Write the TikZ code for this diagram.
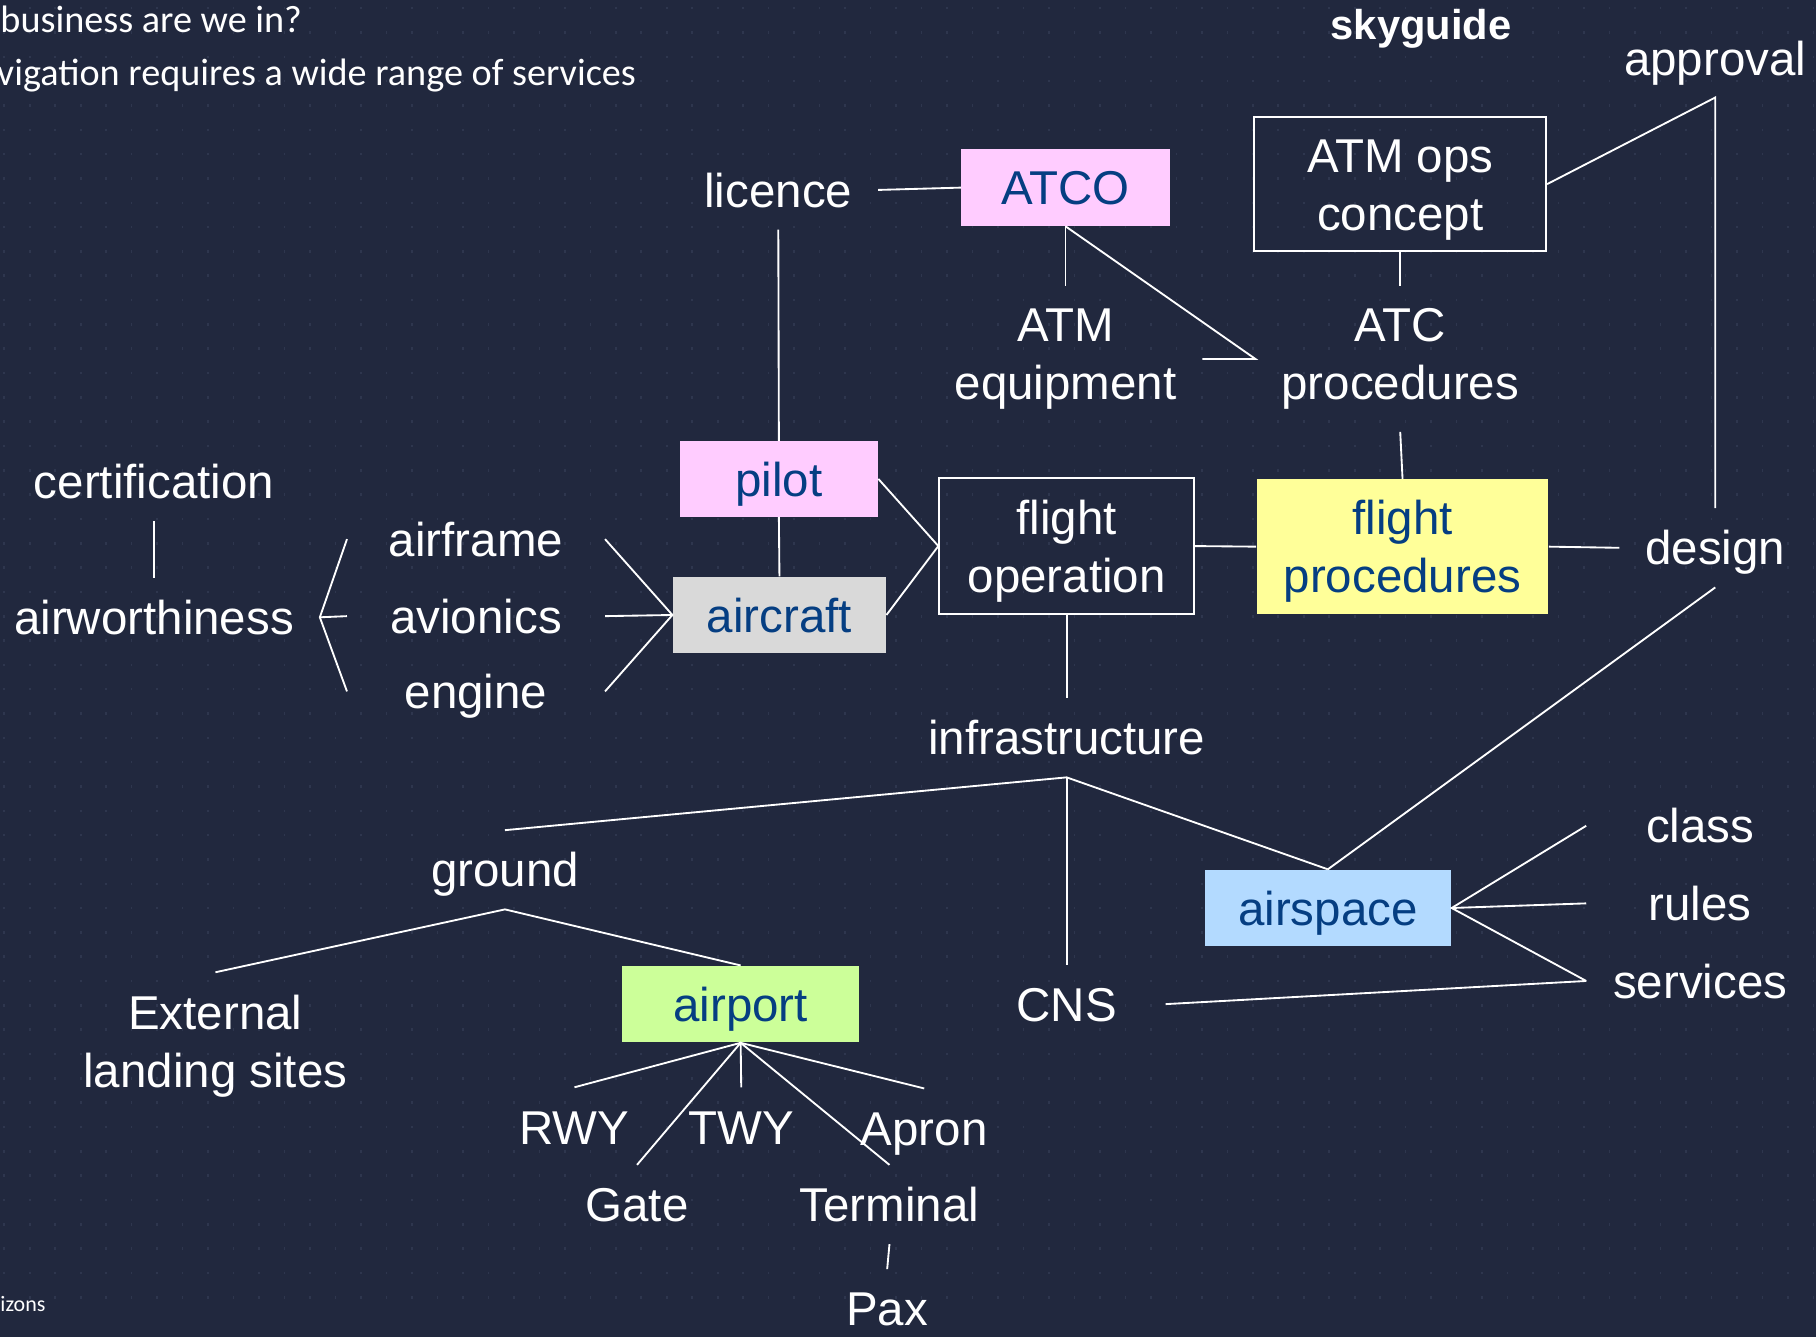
\documentclass[tikz,border=0pt]{standalone}
\usepackage{fontspec}
\setmainfont{Liberation Sans}
\newfontfamily\calibri{Carlito}
\newcommand{\tallline}{\rule{0pt}{19pt}}
\definecolor{slidebg}{RGB}{33,40,62}
\definecolor{griddot}{RGB}{46,54,78}
\definecolor{boxtext}{RGB}{5,62,130}
\definecolor{pinkfill}{RGB}{255,204,255}
\definecolor{grayfill}{RGB}{217,217,217}
\definecolor{yellowfill}{RGB}{255,255,153}
\definecolor{bluefill}{RGB}{179,218,255}
\definecolor{greenfill}{RGB}{204,255,153}
\begin{document}
\begin{tikzpicture}[x=0.5pt,y=-0.5pt,font=\fontsize{20.5}{25}\selectfont]
  \tikzstyle{word}=[text=white, inner xsep=11pt, inner ysep=9.5pt, text height=14.8pt, text depth=0pt]
  \tikzstyle{words}=[text=white, inner xsep=11pt, inner ysep=9.5pt, align=center]
  \tikzstyle{colbox}=[text=boxtext, inner sep=0pt, text height=14.8pt, text depth=0pt, minimum height=33pt]
  \tikzstyle{openbox}=[draw=white, line width=0.8pt, text=white, inner sep=0pt, align=center]
  \tikzstyle{link}=[draw=white, line width=0.8pt]
  \useasboundingbox (0,0) rectangle (1568,1154);
  \clip (0,0) rectangle (1568,1154);
  \fill[slidebg] (0,0) rectangle (1568,1154);
  \foreach \i in {0,...,72} \foreach \j in {0,...,53}
    \fill[griddot] (\i*22+3,\j*21+6) rectangle ++(1.4,2.2);
  \node[anchor=base west, text=white, inner sep=0pt, font=\calibri\fontsize{16.5}{19}\selectfont] (title1) at (0,28) {business are we in?};
  \node[anchor=base west, text=white, inner sep=0pt, font=\calibri\fontsize{16.5}{19}\selectfont] (title2) at (-3,74) {vigation requires a wide range of services};
  \node[anchor=base west, text=white, inner sep=0pt, font=\calibri\fontsize{9.5}{11}\selectfont] (footer) at (0,1132) {izons};
  \node[anchor=base, text=white, inner sep=0pt, font=\bfseries\fontsize{18}{21}\selectfont] (brand) at (1227,34.5) {skyguide};
  \node[word] (licence) at (672,164) {licence};
  \node[colbox, fill=pinkfill, minimum width=90pt] (atco) at (920,162) {ATCO};
  \node[openbox, minimum width=126pt, minimum height=58pt] (opsconcept) at (1209,159) {\tallline ATM ops\\concept};
  \node[word] (approval) at (1481,50) {approval};
  \node[words] (atmequip) at (920,310) {ATM\\equipment};
  \node[words] (atcproc) at (1209,310) {ATC\\procedures};
  \node[colbox, fill=pinkfill, minimum width=85.5pt, minimum height=32.5pt] (pilot) at (672.5,413.5) {pilot};
  \node[word] (cert) at (133,416) {certification};
  \node[word] (airworth) at (133,533) {airworthiness};
  \node[word, minimum width=111pt] (airframe) at (411,465.5) {airframe};
  \node[word, minimum width=111pt] (avionics) at (411,532) {avionics};
  \node[word, minimum width=111pt] (engine) at (411,597) {engine};
  \node[colbox, fill=grayfill, minimum width=92pt] (aircraft) at (673,531) {aircraft};
  \node[openbox, minimum width=110pt, minimum height=58.5pt] (flightop) at (921,471.5) {\tallline flight\\operation};
  \node[colbox, fill=yellowfill, align=center, text height=, text depth=, minimum width=126pt, minimum height=58pt] (flightproc) at (1211,472) {\tallline flight\\procedures};
  \node[word] (design) at (1481,473) {design};
  \node[word] (infra) at (921,637) {infrastructure};
  \node[word] (ground) at (436,751) {ground};
  \node[colbox, fill=bluefill, minimum width=106.5pt] (airspace) at (1146.5,784) {airspace};
  \node[word, minimum width=98pt] (class) at (1468,713) {class};
  \node[word, minimum width=98pt] (rules) at (1468,780) {rules};
  \node[word, minimum width=98pt] (services) at (1468,847) {services};
  \node[word, minimum width=85pt] (cns) at (921,867) {CNS};
  \node[words] (landing) at (186,903) {External\\landing sites};
  \node[colbox, fill=greenfill, minimum width=102.5pt] (airport) at (639.5,867) {airport};
  \node[word] (rwy) at (496,973) {RWY};
  \node[word] (twy) at (640,973) {TWY};
  \node[word] (apron) at (798,974) {Apron};
  \node[word] (gate) at (550,1040) {Gate};
  \node[word] (terminal) at (768,1040) {Terminal};
  \node[word] (pax) at (766,1130) {Pax};
  \draw[link] (licence.east) -- (atco.west);
  \draw[link] (licence.south) -- (pilot.north);
  \draw[link] (atco.south) -- (atmequip.north);
  \draw[link] (atco.south) -- (atcproc.west) -- (atmequip.east);
  \draw[link] (opsconcept.south) -- (atcproc.north);
  \draw[link] (opsconcept.east) -- (approval.south) -- (design.north);
  \draw[link] (atcproc.south) -- (flightproc.north);
  \draw[link] (pilot.south) -- (aircraft.north);
  \draw[link] (pilot.east) -- (flightop.west) -- (aircraft.east);
  \draw[link] (cert.south) -- (airworth.north);
  \draw[link] (airframe.west) -- (airworth.east) -- (engine.west);
  \draw[link] (airworth.east) -- (avionics.west);
  \draw[link] (airframe.east) -- (aircraft.west) -- (engine.east);
  \draw[link] (avionics.east) -- (aircraft.west);
  \draw[link] (flightop.east) -- (flightproc.west);
  \draw[link] (flightproc.east) -- (design.west);
  \draw[link] (flightop.south) -- (infra.north);
  \draw[link] (ground.north) -- (infra.south) -- (airspace.north);
  \draw[link] (infra.south) -- (cns.north);
  \draw[link] (design.south) -- (airspace.north);
  \draw[link] (landing.north) -- (ground.south) -- (airport.north);
  \draw[link] (class.west) -- (airspace.east) -- (services.west);
  \draw[link] (airspace.east) -- (rules.west);
  \draw[link] (cns.east) -- (services.west);
  \draw[link] (rwy.north) -- (airport.south) -- (apron.north);
  \draw[link] (airport.south) -- (twy.north);
  \draw[link] (gate.north) -- (airport.south) -- (terminal.north);
  \draw[link] (terminal.south) -- (pax.north);
\end{tikzpicture}
\end{document}
